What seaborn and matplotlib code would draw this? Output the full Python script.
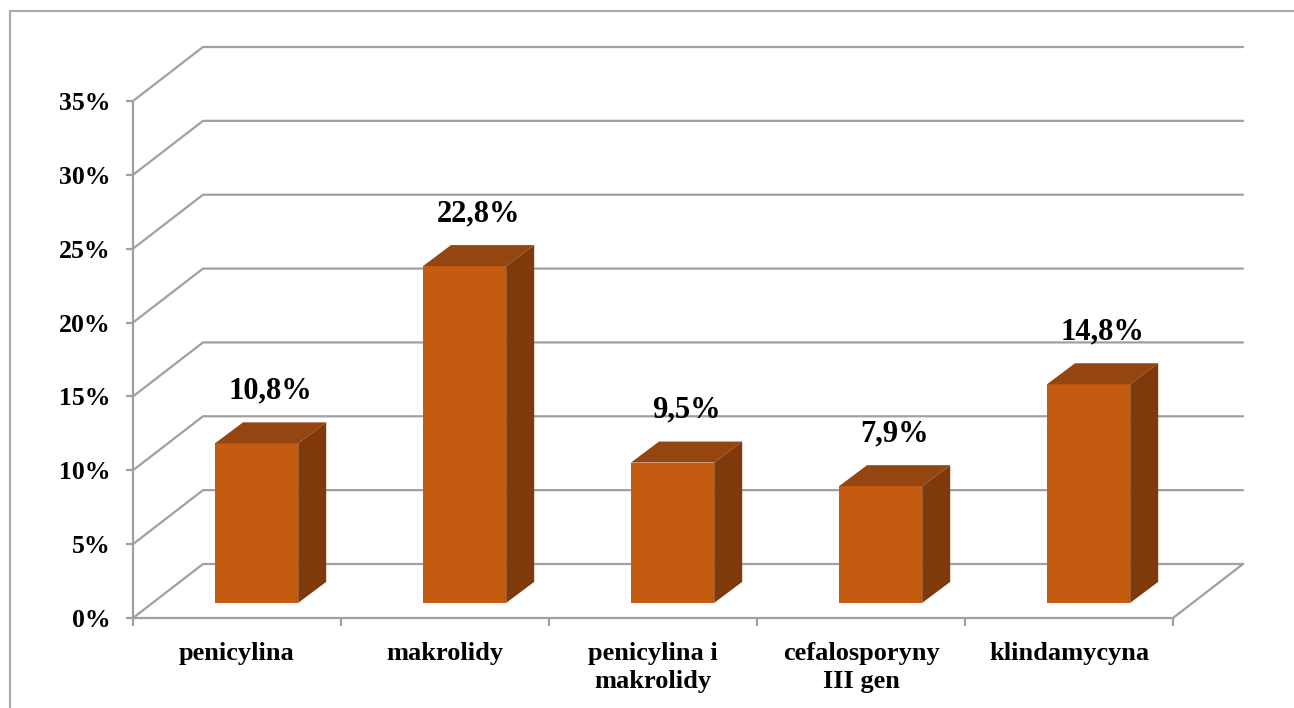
import matplotlib
matplotlib.use("Agg")
import matplotlib.pyplot as plt
from matplotlib.patches import Polygon
from matplotlib.lines import Line2D
from matplotlib.ticker import FixedLocator, FuncFormatter
import seaborn as sns
import pandas as pd

# Data
categories = ["penicylina", "makrolidy", "penicylina i\nmakrolidy",
              "cefalosporyny\nIII gen", "klindamycyna"]
values = [10.8, 22.8, 9.5, 7.9, 14.8]
value_labels = ["10,8%", "22,8%", "9,5%", "7,9%", "14,8%"]
y_ticks = [0, 5, 10, 15, 20, 25, 30, 35]

# Styling
FRONT = "#C55A11"
TOP = "#95450F"
SIDE = "#7F390B"
GRID = "#A0A0A0"
FRAME = "#ABABAB"
FONT = "Liberation Serif"

sns.set_theme(style="white")
plt.rcParams["font.family"] = [FONT, "DejaVu Serif"]
plt.rcParams["font.weight"] = "bold"
plt.rcParams["text.color"] = "black"
plt.rcParams["xtick.labelcolor"] = "black"
plt.rcParams["ytick.labelcolor"] = "black"

W, H, DPI = 1294, 708, 100
fig = plt.figure(figsize=(W / DPI, H / DPI), dpi=DPI)
fig.patch.set_facecolor("white")

# front plane of the plot box in pixels
x0_px, x1_px = 133, 1173
y0_px, y1_px = 618, 101
ax = fig.add_axes([x0_px / W, (H - y0_px) / H, (x1_px - x0_px) / W, (y0_px - y1_px) / H])

df = pd.DataFrame({"kategoria": categories, "udzial": values})
sns.barplot(data=df, x="kategoria", y="udzial", color=FRONT, saturation=1,
            width=0.4, ax=ax, zorder=3, linewidth=0)
ax.set_xlim(-0.5, len(categories) - 0.5)
ax.set_ylim(0, 35)

# perspective offsets (data units) for the back wall and for bar depth
px_x = (x1_px - x0_px) / len(categories)
px_y = (y0_px - y1_px) / 35.0
DX, DY = 70 / px_x, 54 / px_y          # full depth of the box
D1 = 0.28                               # front face of the bars
BDX, BDY = 28 / px_x, 21 / px_y         # depth of each bar

xl, xr = ax.get_xlim()
# back wall gridlines with left-wall diagonals
for v in y_ticks:
    ax.add_line(Line2D([xl, xl + DX, xr + DX], [v, v + DY, v + DY],
                       color=GRID, lw=1.6, clip_on=False, zorder=1))
# floor right edge
ax.add_line(Line2D([xr, xr + DX], [0, DY], color=GRID, lw=1.6,
                   clip_on=False, zorder=1))

# turn the flat bars into boxes
for p, lab in zip(ax.patches, value_labels):
    h = p.get_height()
    bx = p.get_x() + D1 * DX
    by = D1 * DY
    w = p.get_width()
    p.set_x(bx)
    p.set_y(by)
    left, right, bottom, top = bx, bx + w, by, by + h
    ax.add_patch(Polygon([(left, top), (right, top), (right + BDX, top + BDY),
                          (left + BDX, top + BDY)], closed=True, facecolor=TOP,
                         edgecolor="none", zorder=3, clip_on=False))
    ax.add_patch(Polygon([(right, bottom), (right + BDX, bottom + BDY),
                          (right + BDX, top + BDY), (right, top)], closed=True,
                         facecolor=SIDE, edgecolor="none", zorder=3, clip_on=False))
    ax.annotate(lab, xy=(left + w / 2 + BDX / 2, top + BDY), xytext=(0, 12),
                textcoords="offset points", ha="center", va="bottom",
                fontsize=22, fontweight="bold", family=FONT, color="black",
                zorder=5, annotation_clip=False)

# axes
ax.set_xlabel("")
ax.set_ylabel("")
for side in ("top", "right"):
    ax.spines[side].set_visible(False)
for side in ("left", "bottom"):
    ax.spines[side].set_color(GRID)
    ax.spines[side].set_linewidth(1.6)
    ax.spines[side].set_zorder(2)

ax.yaxis.set_major_locator(FixedLocator(y_ticks))
ax.yaxis.set_major_formatter(FuncFormatter(lambda v, _: f"{v:.0f}%"))
ax.tick_params(axis="y", which="major", length=5, width=1.6, color=GRID,
               direction="out", left=True, pad=11, labelsize=18.5,
               labelcolor="black")
ax.set_xticks(range(len(categories)))
ax.set_xticklabels(categories, fontsize=19, fontweight="bold",
                   family=FONT, color="black", va="top")
for t in ax.get_xticklabels():
    t.set_linespacing(1.3)
ax.set_xticks([i - 0.5 for i in range(len(categories) + 1)], minor=True)
ax.tick_params(axis="x", which="major", length=0, pad=17)
ax.tick_params(axis="x", which="minor", length=6, width=1.6, color=GRID,
               direction="out", bottom=True)
for t in ax.get_yticklabels():
    t.set_fontweight("bold")
    t.set_family(FONT)
ax.set_facecolor("none")
ax.grid(False)

# chart frame
fig.add_artist(Line2D([10 / W, 10 / W], [0, (H - 11) / H], color=FRAME, lw=1.6,
                      transform=fig.transFigure))
fig.add_artist(Line2D([10 / W, 1], [(H - 11) / H, (H - 11) / H], color=FRAME,
                      lw=1.6, transform=fig.transFigure))

fig.savefig("out.png", dpi=DPI, facecolor="white")
